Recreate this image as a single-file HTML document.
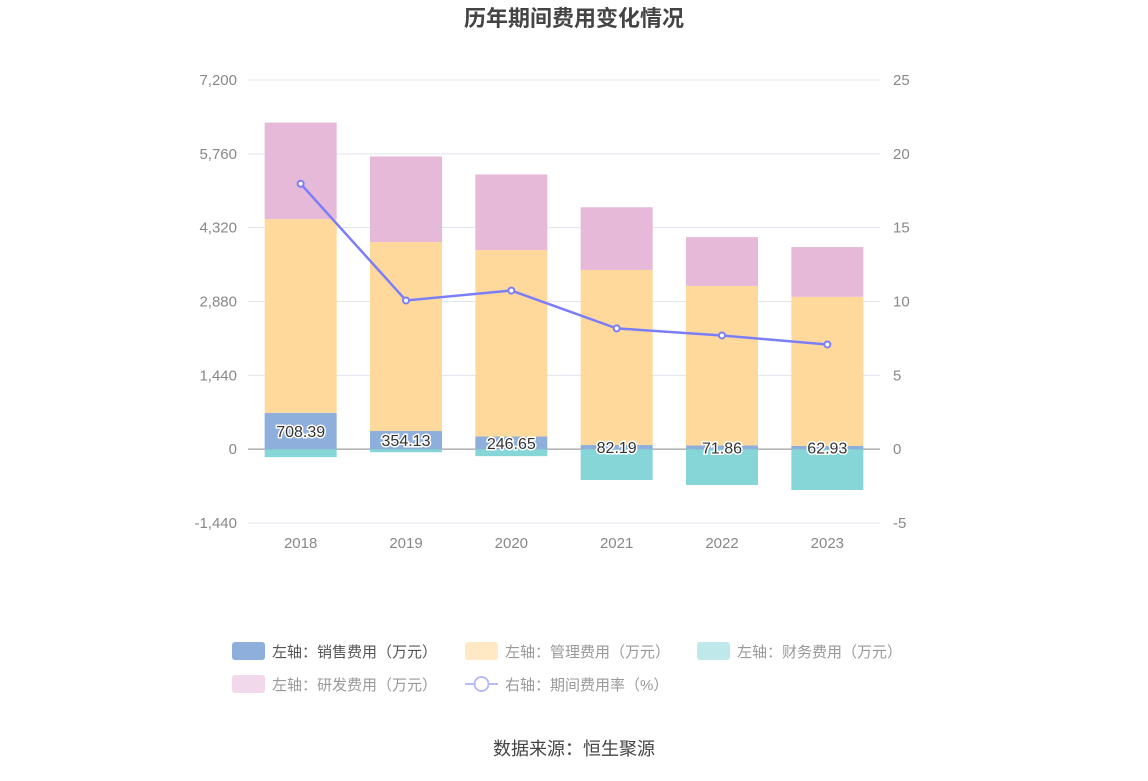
<!DOCTYPE html>
<html><head><meta charset="utf-8"><style>
body{margin:0;background:#fff;width:1148px;height:776px;overflow:hidden;font-family:"Liberation Sans","Noto Sans CJK SC",sans-serif;}
</style></head><body>
<svg id="chart" width="1148" height="776" xmlns="http://www.w3.org/2000/svg" font-family="Liberation Sans, Noto Sans CJK SC, sans-serif">
<text x="574" y="26" text-anchor="middle" font-size="22" font-weight="bold" fill="#444">历年期间费用变化情况</text>
<g id="grid"></g><g id="bars"></g><g id="line"></g><g id="labels"></g>
<g font-size="15">
<g><rect x="232" y="642" width="33" height="18" rx="3" fill="#8eaedc"/><text x="272" y="657" fill="#555">左轴：销售费用（万元）</text></g>
<g><rect x="465" y="642" width="33" height="18" rx="3" fill="#ffe9c5"/><text x="505" y="657" fill="#999">左轴：管理费用（万元）</text></g>
<g><rect x="697" y="642" width="33" height="18" rx="3" fill="#bfe8ea"/><text x="737" y="657" fill="#999">左轴：财务费用（万元）</text></g>
<g><rect x="232" y="675" width="33" height="18" rx="3" fill="#f2d8eb"/><text x="272" y="690" fill="#999">左轴：研发费用（万元）</text></g>
<g><line x1="465" y1="684" x2="498" y2="684" stroke="#b9bbf7" stroke-width="2"/><circle cx="481.5" cy="684" r="7" fill="#fff" stroke="#b9bbf7" stroke-width="2"/><text x="505" y="690" fill="#999">右轴：期间费用率（%）</text></g>
</g>
<text x="574" y="755" text-anchor="middle" font-size="18" fill="#444">数据来源：恒生聚源</text>
</svg>
<script>
const years=["2018","2019","2020","2021","2022","2023"];
const sales=[708.39,354.13,246.65,82.19,71.86,62.93];
const mgmt=[3777,3685,3636,3413,3112,2908];
const finance=[-155,-60,-136,-602,-699,-796];
const rd=[1884,1670,1476,1223,952,971];
const rate=[17.97,10.07,10.74,8.18,7.7,7.09];
const leftTicks=[-1440,0,1440,2880,4320,5760,7200];
const rightTicks=[-5,0,5,10,15,20,25];
const NS="http://www.w3.org/2000/svg";
const plotTop=80,plotBot=523,plotX0=248,plotX1=880;
const yL=v=>plotBot-(v-(-1440))/(7200+1440)*(plotBot-plotTop);
const yR=v=>plotBot-(v-(-5))/30*(plotBot-plotTop);
const bw=(plotX1-plotX0)/years.length;
const xc=i=>plotX0+bw*(i+0.5);
function mk(tag,attrs,parent){const e=document.createElementNS(NS,tag);for(const k in attrs)e.setAttribute(k,attrs[k]);document.getElementById(parent).appendChild(e);return e;}
leftTicks.forEach((t)=>{
 const g=mk("line",{x1:plotX0,x2:plotX1,y1:yL(t),y2:yL(t),stroke:t===0?"#888":"#e3e3ee","stroke-width":1},"grid");
 
 
 const l=mk("text",{x:237,y:yL(t)+5,"text-anchor":"end","font-size":15,fill:"#888"},"grid");l.textContent=t.toLocaleString("en-US");
 
 
});
rightTicks.forEach(t=>{
 const l=mk("text",{x:893,y:yR(t)+5,"font-size":15,fill:"#888"},"grid");l.textContent=t;
 
 
});
years.forEach((y,i)=>{
 const l=mk("text",{x:xc(i),y:548,"text-anchor":"middle","font-size":15,fill:"#888"},"grid");l.textContent=y;
 
 
 const w=72,x=xc(i)-w/2;
 const s0=yL(0),s1=yL(sales[i]),m1=yL(sales[i]+mgmt[i]),r1=yL(sales[i]+mgmt[i]+rd[i]),f1=yL(finance[i]);
 const segs=[[s1,s0-s1,"#8eaedc","bar-sales"],[m1,s1-m1,"#ffd99b","bar-management"],[r1,m1-r1,"#e6b9d9","bar-rd"],[s0,f1-s0,"#86d6d8","bar-finance"]];
 segs.forEach(sg=>{const r=mk("rect",{x:x,y:sg[0],width:w,height:Math.max(0,sg[1]),fill:sg[2]},"bars");
  
  });
 const t=mk("text",{x:xc(i),y:(s0+s1)/2+6,"text-anchor":"middle","font-size":16,fill:"#333",stroke:"#fff","stroke-width":3,"paint-order":"stroke"},"labels");
 t.textContent=sales[i].toFixed(2);
 
 
});
const pts=rate.map((v,i)=>xc(i)+","+yR(v)).join(" ");
const pl=mk("polyline",{points:pts,fill:"none",stroke:"#7b7ef8","stroke-width":2.5},"line");


rate.forEach((v,i)=>{const c=mk("circle",{cx:xc(i),cy:yR(v),r:3,fill:"#fff",stroke:"#7b7ef8","stroke-width":2},"line");
 
 });
</script>
</body></html>
